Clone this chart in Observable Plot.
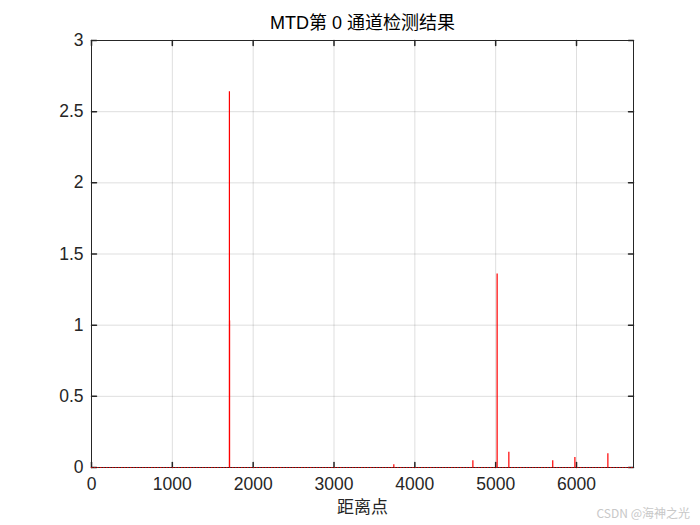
<!DOCTYPE html>
<html>
<head>
<meta charset="utf-8">
<script src="https://cdn.jsdelivr.net/npm/d3@7"></script>
<script src="https://cdn.jsdelivr.net/npm/@observablehq/plot@0.6"></script>
<style>
  body { margin: 0; background: #fff; }
  #chart { position: relative; width: 700px; height: 525px; }
  #wm { position: absolute; right: 10px; bottom: 4px; font: 12px "Noto Sans CJK SC", sans-serif; color: #c8c8c8; }
</style>
</head>
<body>
<div id="chart"></div>
<script>
const titleText = "MTD第 0 通道检测结果";
const xLabel = "距离点";
const watermark = "CSDN @海神之光";
const xDomain = [0, 6705];
const yDomain = [0, 3];
const xTicks = [0, 1000, 2000, 3000, 4000, 5000, 6000];
const yTicks = [0, 0.5, 1, 1.5, 2, 2.5, 3];
const yTickLabels = ["0", "0.5", "1", "1.5", "2", "2.5", "3"];
// detected peaks (distance bin, amplitude)
const peakX = [1706, 1708, 3740, 4718, 5018, 5163, 5706, 5980, 6388];
const peakY = [2.64, 1.03, 0.02, 0.048, 1.36, 0.108, 0.048, 0.07, 0.096];

const peaks = peakX.map((x, i) => ({x, y: peakY[i]}));
const font = "Liberation Sans, Arial, sans-serif";
const tickShape = {draw(ctx, l) { ctx.moveTo(0, 0); ctx.lineTo(0, -l); }};
const axisColor = "#262626";

const plot = Plot.plot({
  width: 700,
  height: 525,
  marginLeft: 91,
  marginRight: 67,
  marginTop: 40,
  marginBottom: 58,
  style: {fontFamily: font, background: "#fff"},
  x: {domain: xDomain},
  y: {domain: yDomain},
  marks: [
    Plot.gridX(xTicks, {stroke: axisColor, strokeOpacity: 0.15}),
    Plot.gridY(yTicks, {stroke: axisColor, strokeOpacity: 0.15}),
    Plot.frame({stroke: axisColor}),
    // inward ticks on all sides
    Plot.vector(xTicks, {x: d => d, frameAnchor: "bottom", length: 5, rotate: 0, anchor: "start", shape: tickShape, stroke: axisColor}),
    Plot.vector(xTicks, {x: d => d, frameAnchor: "top", length: 5, rotate: 180, anchor: "start", shape: tickShape, stroke: axisColor}),
    Plot.vector(yTicks, {y: d => d, frameAnchor: "left", length: 5, rotate: 90, anchor: "start", shape: tickShape, stroke: axisColor}),
    Plot.vector(yTicks, {y: d => d, frameAnchor: "right", length: 5, rotate: -90, anchor: "start", shape: tickShape, stroke: axisColor}),
    Plot.axisX(xTicks, {tickSize: 0, tickPadding: 10, fontSize: 17.5, fill: axisColor, label: null, tickFormat: d => String(d)}),
    Plot.axisY(yTicks, {tickSize: 0, tickPadding: 8, fontSize: 17.5, fill: axisColor, label: null, tickFormat: (d) => yTickLabels[yTicks.indexOf(d)]}),
    // data
    Plot.ruleY([0], {stroke: "#d00000", strokeDasharray: "1.5 1.5"}),
    Plot.ruleX(peaks, {x: "x", y1: 0, y2: "y", stroke: "#ff0000", strokeWidth: 1.2}),
    // title and axis label
    Plot.text([titleText], {frameAnchor: "top", dy: -24, text: d => d, fontSize: 18, letterSpacing: "1px", fill: "#000", fontFamily: "Liberation Sans, Noto Sans CJK SC, sans-serif"}),
    Plot.text([xLabel], {frameAnchor: "bottom", dy: 45, text: d => d, fontSize: 17, letterSpacing: "1px", fill: "#262626", fontFamily: "Noto Sans CJK SC, sans-serif"})
  ]
});
document.getElementById("chart").appendChild(plot);
const wm = document.createElement("div");
wm.id = "wm";
wm.textContent = watermark;
document.getElementById("chart").appendChild(wm);
</script>
</body>
</html>
